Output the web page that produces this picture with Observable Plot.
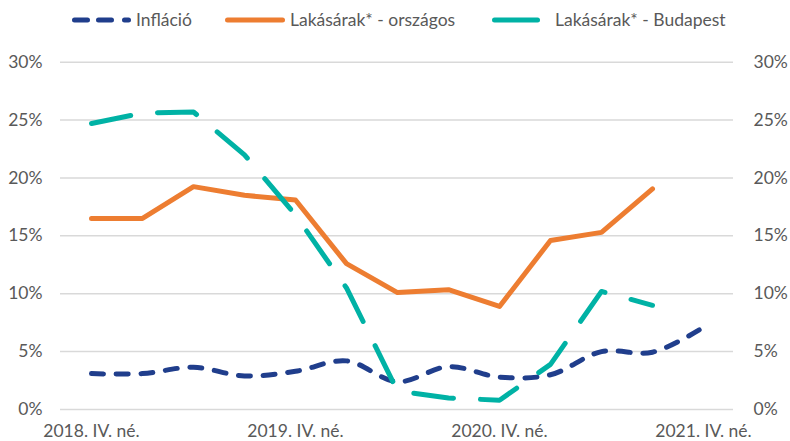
<!DOCTYPE html>
<html><head><meta charset="utf-8">
<script src="https://cdn.jsdelivr.net/npm/d3@7"></script>
<script src="https://cdn.jsdelivr.net/npm/@observablehq/plot@0.6"></script>
<style>
body{margin:0;background:#fff;width:790px;height:441px;overflow:hidden;position:relative;font-family:Lato,sans-serif;color:#595959}
#legend{position:absolute;left:0;top:0;width:790px;height:36px}
.li{position:absolute;top:9px;font-size:17.5px;line-height:22px;white-space:nowrap;color:#595959}
#chart{position:absolute;left:0;top:36px}
</style></head><body>
<div id="legend"></div>
<div id="chart"></div>
<script>
const quarters = ["2018. IV. né.","2019. I. né.","2019. II. né.","2019. III. né.","2019. IV. né.","2020. I. né.","2020. II. né.","2020. III. né.","2020. IV. né.","2021. I. né.","2021. II. né.","2021. III. né.","2021. IV. né."];
const tickLabels = ["2018. IV. né.","2019. IV. né.","2020. IV. né.","2021. IV. né."];
const inflacio = [3.1,3.1,3.65,2.9,3.3,4.2,2.4,3.7,2.8,3.0,5.0,4.95,7.1];
const orszagos = [16.5,16.5,19.25,18.5,18.1,12.6,10.1,10.35,8.9,14.6,15.3,19.05,null];
const budapest = [24.7,25.6,25.7,22.0,16.8,10.5,1.6,1.0,0.8,3.9,10.2,9.0,null];
const yTicks = [0,5,10,15,20,25,30];
const seriesNames = ["Infláció","Lakásárak* - országos","Lakásárak* - Budapest"];
const colors = ["#203e8c","#ed7d31","#00b2a5"];

const rows = (vals) => quarters.map((q,i)=>({q, v: vals[i]})).filter(d=>d.v!=null);

const plot = Plot.plot({
  width: 790, height: 405,
  marginLeft: 60, marginRight: 57, marginTop: 25.7, marginBottom: 32,
  style: {fontFamily: "Lato, sans-serif", fontSize: "17.5px", color: "#595959", background: "#fff"},
  x: {type: "point", domain: quarters, padding: 0.5, label: null},
  y: {domain: [0,30], label: null},
  marks: [
    Plot.ruleY(yTicks, {stroke: "#d9d9d9", strokeWidth: 1.5}),
    Plot.axisY({anchor: "left", ticks: yTicks, tickSize: 0, tickPadding: 18, tickFormat: d => d + "%", label: null, fill: "#595959"}),
    Plot.axisY({anchor: "right", ticks: yTicks, tickSize: 0, tickPadding: 20, tickFormat: d => d + "%", label: null, fill: "#595959"}),
    Plot.axisX({ticks: tickLabels, tickSize: 0, tickPadding: 15, label: null, fill: "#595959"}),
    Plot.line(rows(inflacio), {x: "q", y: "v", stroke: colors[0], strokeWidth: 5, strokeDasharray: "12,12.7", strokeLinecap: "round", strokeLinejoin: "round", curve: "catmull-rom"}),
    Plot.line(rows(orszagos), {x: "q", y: "v", stroke: colors[1], strokeWidth: 5, strokeLinecap: "round", strokeLinejoin: "round"}),
    Plot.line(rows(budapest), {x: "q", y: "v", stroke: colors[2], strokeWidth: 5, strokeDasharray: "40,27", strokeLinecap: "round", strokeLinejoin: "round"})
  ]
});
document.getElementById("chart").appendChild(plot);

// legend
const lg = document.getElementById("legend");
const items = [
  {sx: 72, ex: 131, tx: 136, dash: "13,11,13,13,4,40"},
  {sx: 225, ex: 285, tx: 290, dash: null},
  {sx: 492, ex: 540, tx: 555, dash: null}
];
const ns = "http://www.w3.org/2000/svg";
items.forEach((it, i) => {
  const s = document.createElementNS(ns, "svg");
  s.setAttribute("width", it.ex - it.sx); s.setAttribute("height", 10);
  s.style.position = "absolute"; s.style.left = it.sx + "px"; s.style.top = "15px";
  const l = document.createElementNS(ns, "line");
  l.setAttribute("x1", 2.5); l.setAttribute("x2", it.ex - it.sx - 2.5);
  l.setAttribute("y1", 5); l.setAttribute("y2", 5);
  l.setAttribute("stroke", colors[i]); l.setAttribute("stroke-width", 5);
  l.setAttribute("stroke-linecap", "round");
  if (it.dash) l.setAttribute("stroke-dasharray", it.dash);
  s.appendChild(l); lg.appendChild(s);
  const t = document.createElement("span");
  t.className = "li"; t.style.left = it.tx + "px"; t.textContent = seriesNames[i];
  lg.appendChild(t);
});
</script>
</body></html>
